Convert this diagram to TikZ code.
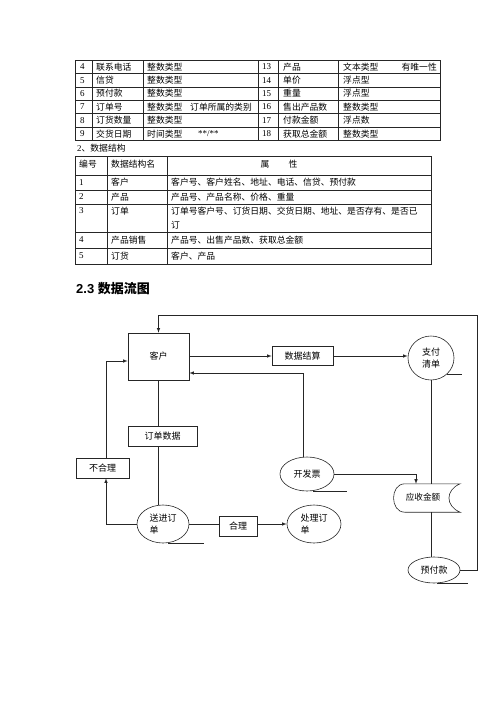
\documentclass[tikz,border=0pt]{standalone}
\usepackage{fontspec}
\setmainfont{Liberation Serif}
\setsansfont{Liberation Sans}
\newfontfamily\cjk{Noto Sans CJK SC}
\usetikzlibrary{shapes.geometric,calc}

\tikzset{
  tbl/.style={line width=0.6pt, black!85},
  cell/.style={anchor=west, inner sep=0pt, font=\cjk\fontsize{8.8}{10}\selectfont},
  num/.style={anchor=west, inner sep=0pt, font=\fontsize{9}{10}\selectfont},
  box/.style={draw=black!85, line width=0.6pt, rectangle, inner sep=0pt, font=\cjk\fontsize{9}{10}\selectfont},
  bubble/.style={draw=black!85, line width=0.6pt, ellipse, inner sep=0pt, align=left, font=\cjk\fontsize{9}{12.5}\selectfont},
  flow/.style={line width=0.6pt, black!85},
  >=latex
}

\begin{document}
\begin{tikzpicture}[x=1pt,y=-1pt]
\useasboundingbox (0,0) rectangle (500,707);

% first table (data dictionary, rows 4-9 / 13-18)
\draw[tbl] (75,60) rectangle (440,140);
\foreach \y in {73.4,86.8,100.2,113.6,127} \draw[tbl] (75,\y) -- (440,\y);
\foreach \x in {92,143,258,278,338} \draw[tbl] (\x,60) -- (\x,140);
\foreach \n/\a/\b/\m/\c/\d [count=\i] in {4/联系电话/整数类型/13/产品/文本类型,
    5/信贷/整数类型/14/单价/浮点型, 6/预付款/整数类型/15/重量/浮点型,
    7/订单号/整数类型/16/售出产品数/整数类型, 8/订货数量/整数类型/17/付款金额/浮点数,
    9/交货日期/时间类型/18/获取总金额/整数类型}
{
  \pgfmathsetmacro\yy{60+13.4*\i-6.7}
  \node[num] at (80,\yy) {\n};
  \node[cell] at (96,\yy) {\a};
  \node[cell] at (147,\yy) {\b};
  \node[num] at (262,\yy) {\m};
  \node[cell] at (283,\yy) {\c};
  \node[cell] at (343,\yy) {\d};
}
\node[cell, anchor=east] (wyx) at (437,66.7) {有唯一性};
\node[cell] (lb) at (190,106.9) {订单所属的类别};
\node[num] (fmt) at (198,133.7) {**/**};

\node[cell] (sjjg) at (77,148) {{\rmfamily 2}、数据结构};

% second table (data structures)
\draw[tbl] (75,156) rectangle (431,264);
\foreach \y in {175,190,204,232,248} \draw[tbl] (75,\y) -- (431,\y);
\foreach \x in {107,167} \draw[tbl] (\x,156) -- (\x,264);
\node[cell] (bh) at (79,164) {编号};
\node[cell] (mc) at (111,164) {数据结构名};
\node[cell, anchor=center] (sx) at (279,164) {属\hspace{2.2em}性};

\node[num] at (79,182.5) {1};
\node[cell] at (111,182.5) {客户};
\node[cell] at (171,182.5) {客户号、客户姓名、地址、电话、信贷、预付款};
\node[num] at (79,197) {2};
\node[cell] at (111,197) {产品};
\node[cell] at (171,197) {产品号、产品名称、价格、重量};
\node[num] at (79,211) {3};
\node[cell] at (111,211) {订单};
\node[cell] at (171,211) {订单号客户号、订货日期、交货日期、地址、是否存有、是否已};
\node[cell] at (171,225) {订};
\node[num] at (79,240) {4};
\node[cell] at (111,240) {产品销售};
\node[cell] at (171,240) {产品号、出售产品数、获取总金额};
\node[num] at (79,256) {5};
\node[cell] at (111,256) {订货};
\node[cell] at (171,256) {客户、产品};

\node[anchor=west, inner sep=0pt] (title) at (76,289)
  {\fontsize{13}{15}\selectfont\sffamily\bfseries 2.3 {\cjk\bfseries 数据流图}};

% data flow diagram
\node[box, minimum width=61pt, minimum height=47pt] (kh) at (158.5,356.5) {客户};
\node[box, minimum width=61pt, minimum height=19pt] (sjjs) at (302.5,356) {数据结算};
\node[bubble, minimum width=46pt, minimum height=44pt] (zfqd) at (431,358) {支付\\清单};
\node[box, minimum width=69pt, minimum height=20pt] (ddsj) at (162.5,436) {订单数据};
\node[box, minimum width=53pt, minimum height=20pt] (bhl) at (102.5,468) {不合理};
\node[bubble, minimum width=52pt, minimum height=38pt] (sjdd) at (163,524) {送进订\\单};
\node[box, minimum width=38pt, minimum height=20pt] (hl) at (238,526) {合理};
\node[bubble, minimum width=54pt, minimum height=38pt] (cldd) at (314,524) {处理订\\单};
\node[bubble, minimum width=54pt, minimum height=34pt] (kfp) at (307,474) {开发票};
\node[inner sep=0pt, minimum width=66pt, minimum height=28pt,
  label={[font=\cjk\fontsize{8.6}{10}\selectfont, xshift=-4pt, yshift=1pt]center:应收金额}] (ysje) at (427,498) {};
\node[bubble, minimum width=52pt, minimum height=26pt] (yfk) at (434,570) {预付款};

% store outline of 应收金额
\draw[flow] ($(ysje.north west)+(11,0)$) -- (ysje.north east)
  .. controls ($(ysje.north east)+(-15,6)$) and ($(ysje.south east)+(-15,-6)$) .. (ysje.south east)
  -- ($(ysje.south west)+(11,0)$)
  .. controls ($(ysje.south west)+(-4,0)$) and ($(ysje.north west)+(-4,0)$) .. cycle;

% underlines of the processes
\draw[flow] (zfqd.-45) -- ++(15,0);
\draw[flow] ($(kfp.south)+(6,0)$) -- ++(34,0);
\draw[flow] ($(sjdd.south)+(5,0)$) -- ++(36,0);
\draw[flow] ($(yfk.south)+(3,0)$) -- ++(31,0);

\coordinate (top) at (477,315);
\draw[flow,->] (yfk.east) -| (top) -| (kh.north);
\draw[flow,->] (kh.east |- sjjs.west) -- (sjjs.west);
\draw[flow,->] (sjjs.east) -- (zfqd.west |- sjjs.east);
\draw[flow,->] ($(kfp.north)+(-4,0)$) |- ($(kh.east)+(0,16.5)$);
\draw[flow,->] ($(bhl.north)+(3.5,0)$) |- ($(kh.west)+(0,4.5)$);
\draw[flow] (kh.south) -- (kh.south |- ddsj.north);
\draw[flow] (kh.south |- ddsj.south) -- (kh.south |- sjdd.north);
\draw[flow,->] (sjdd.west) -| ($(bhl.south)+(3.5,0)$);
\draw[flow] (sjdd.east) -- (sjdd.east -| hl.west);
\draw[flow,->] (hl.east |- sjdd.east) -- (cldd.west);
\draw[flow,->] (kfp.east) -| ($(ysje.north)+(-11,0)$);
\draw[flow] (zfqd.south) -- (zfqd.south |- ysje.north);
\draw[flow] (zfqd.south |- ysje.south) -- (zfqd.south |- yfk.north);

\end{tikzpicture}
\end{document}
